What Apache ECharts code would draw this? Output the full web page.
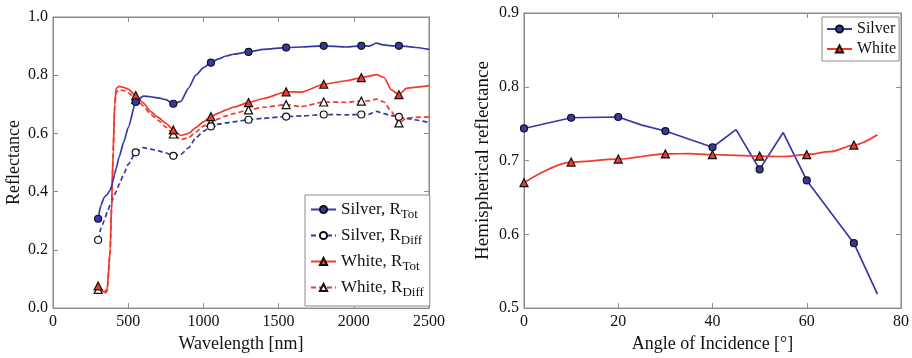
<!DOCTYPE html>
<html><head><meta charset="utf-8">
<script src="https://cdn.jsdelivr.net/npm/echarts@6/dist/echarts.min.js"></script>
<style>html,body{margin:0;padding:0;background:#fff}#c{width:912px;height:358px}</style>
</head><body><div id="c"></div>
<script>
// ---------- Left chart data (wavelength in nm) ----------
const wavelengths = [300,320,340,360,380,390,400,410,420,440,470,500,550,600,650,700,750,800,850,900,950,1000,1050,1100,1150,1200,1300,1400,1550,1650,1800,1950,2050,2100,2150,2200,2250,2300,2350,2400,2500];
const silverTot  = [0.307,0.355,0.380,0.390,0.405,0.420,0.440,0.460,0.480,0.520,0.570,0.620,0.708,0.728,0.726,0.722,0.716,0.702,0.710,0.755,0.800,0.826,0.843,0.856,0.866,0.872,0.880,0.889,0.895,0.897,0.901,0.897,0.901,0.900,0.910,0.904,0.901,0.901,0.899,0.896,0.889];
const silverDiff = [0.234,0.275,0.300,0.330,0.355,0.365,0.380,0.390,0.400,0.425,0.460,0.494,0.535,0.551,0.546,0.540,0.533,0.523,0.528,0.550,0.585,0.607,0.624,0.632,0.636,0.640,0.647,0.652,0.658,0.660,0.665,0.664,0.665,0.666,0.676,0.668,0.661,0.657,0.652,0.647,0.638];
const whiteTot   = [0.076,0.065,0.055,0.065,0.200,0.360,0.540,0.700,0.755,0.762,0.758,0.752,0.730,0.705,0.675,0.655,0.635,0.612,0.593,0.600,0.620,0.640,0.658,0.670,0.681,0.690,0.706,0.720,0.743,0.742,0.769,0.781,0.792,0.797,0.802,0.793,0.750,0.733,0.755,0.758,0.764];
const whiteDiff  = [0.064,0.058,0.050,0.058,0.190,0.350,0.530,0.690,0.743,0.750,0.747,0.740,0.718,0.695,0.665,0.645,0.622,0.598,0.579,0.585,0.605,0.625,0.638,0.650,0.660,0.668,0.681,0.690,0.699,0.692,0.708,0.707,0.711,0.712,0.718,0.708,0.675,0.636,0.652,0.655,0.657];
const markerWavelengths = [300,550,800,1050,1300,1550,1800,2050,2300];
const leftXTicks = [0, 2500, 500];
const leftYTicks = [0, 1, 0.2];

// ---------- Right chart data (angle in degrees) ----------
const silverAngles = [0,10,20,25,30,40,45,50,55,60,70,75];
const silverHemi   = [0.7435,0.758,0.759,0.748,0.740,0.718,0.742,0.688,0.738,0.673,0.588,0.519];
const whiteAngles  = [0,10,20,30,35,40,50,55,60,65,70,75];
const whiteHemi    = [0.670,0.698,0.702,0.709,0.7095,0.708,0.706,0.7055,0.708,0.712,0.721,0.735];
const markerAngles = [0,10,20,30,40,50,60,70];
const rightXTicks = [0, 80, 20];
const rightYTicks = [0.5, 0.9, 0.1];

const BLUE = '#3737a6', RED = '#f03a2b', GRAY = '#8a8a8a';
const FONT = '"Liberation Serif", "Times New Roman", serif';

function build(xs, ys, marks) {
  return xs.map((x, i) => marks.includes(x) ? {value: [x, ys[i]]} : {value: [x, ys[i]], symbol: 'none'});
}

function axisPair(gridIndex, dim, ticks, name, nameGap, nameSize, fmt) {
  const base = {
    gridIndex, type: 'value', min: ticks[0], max: ticks[1], interval: ticks[2],
    axisLine: {show: true, onZero: false, lineStyle: {color: GRAY, width: 1}},
    axisTick: {show: true, inside: true, length: 5, lineStyle: {color: GRAY}},
    splitLine: {show: false}
  };
  const main = Object.assign({}, base, {
    position: dim === 'x' ? 'bottom' : 'left',
    axisLabel: {color: '#111', fontFamily: FONT, fontSize: 16, margin: dim === 'x' ? 6 : 5, formatter: fmt},
    name, nameLocation: 'middle', nameGap,
    nameTextStyle: {color: '#111', fontFamily: FONT, fontSize: nameSize}
  });
  const other = Object.assign({}, base, {
    position: dim === 'x' ? 'top' : 'right',
    axisLabel: {show: false}
  });
  return [main, other];
}

const legendFmt = n => {
  const m = n.match(/^(.*R)(Tot|Diff)$/);
  return m ? '{m|' + m[1] + '}{s|' + m[2] + '}' : n;
};
const legendRich = {
  m: {fontFamily: FONT, fontSize: 17, color: '#111', lineHeight: 23},
  s: {fontFamily: FONT, fontSize: 13, color: '#111', lineHeight: 13, verticalAlign: 'bottom'}
};

const xs = [
  ...axisPair(0, 'x', leftXTicks, 'Wavelength [nm]', 18, 18, v => String(v)),
  ...axisPair(1, 'x', rightXTicks, 'Angle of Incidence [°]', 18, 18, v => String(v))
];
const ys = [
  ...axisPair(0, 'y', leftYTicks, 'Reflectance', 30, 18, v => v.toFixed(1)),
  ...axisPair(1, 'y', rightYTicks, 'Hemispherical reflectance', 31, 19, v => v.toFixed(1))
];

function spec(name, xi, yi, data, color, dashed, symbol, filled, size, smooth) {
  return {
    name, type: 'line', xAxisIndex: xi, yAxisIndex: yi, data,
    symbol, symbolSize: size, showAllSymbol: true, smooth, smoothMonotone: 'x',
    lineStyle: {color, width: 1.7, type: dashed ? [5, 3] : 'solid'},
    itemStyle: {color: filled ? color : '#fff', borderColor: '#111', borderWidth: 1.2},
    emphasis: {disabled: true}, z: filled ? 3 : 2
  };
}

const chart = echarts.init(document.getElementById('c'), null, {renderer: 'canvas'});
chart.setOption({
  animation: false,
  backgroundColor: '#fff',
  grid: [
    {left: 53, top: 17, width: 376, height: 296, show: true, borderColor: GRAY, borderWidth: 1, backgroundColor: '#fff'},
    {left: 524, top: 13, width: 378, height: 297, show: true, borderColor: GRAY, borderWidth: 1, backgroundColor: '#fff'}
  ],
  xAxis: xs,
  yAxis: ys,
  legend: [
    {
      data: ['Silver, RTot', 'Silver, RDiff', 'White, RTot', 'White, RDiff'],
      orient: 'vertical', left: 305, top: 195, padding: [6, 6, 7, 5], itemGap: 6,
      itemWidth: 25, itemHeight: 9, backgroundColor: '#fff', borderColor: GRAY, borderWidth: 1,
      formatter: legendFmt, textStyle: {rich: legendRich, fontFamily: FONT, fontSize: 17, color: '#111'},
      selectedMode: false
    },
    {
      data: ['Silver', 'White'],
      orient: 'vertical', left: 822, top: 17, padding: [3, 3, 3, 4], itemGap: 2,
      itemWidth: 25, itemHeight: 9, backgroundColor: '#fff', borderColor: GRAY, borderWidth: 1,
      textStyle: {fontFamily: FONT, fontSize: 16, color: '#111', lineHeight: 18},
      selectedMode: false
    }
  ],
  series: [
    spec('White, RDiff', 0, 0, build(wavelengths, whiteDiff, markerWavelengths), RED, true, 'triangle', false, 8, 0.2),
    spec('White, RTot', 0, 0, build(wavelengths, whiteTot, markerWavelengths), RED, false, 'triangle', true, 8, 0.2),
    spec('Silver, RDiff', 0, 0, build(wavelengths, silverDiff, markerWavelengths), BLUE, true, 'circle', false, 7, 0.2),
    spec('Silver, RTot', 0, 0, build(wavelengths, silverTot, markerWavelengths), BLUE, false, 'circle', true, 7, 0.2),
    spec('Silver', 2, 2, build(silverAngles, silverHemi, markerAngles), BLUE, false, 'circle', true, 7, false),
    spec('White', 2, 2, build(whiteAngles, whiteHemi, markerAngles), RED, false, 'triangle', true, 8, 0.3)
  ]
});
</script>
</body></html>
